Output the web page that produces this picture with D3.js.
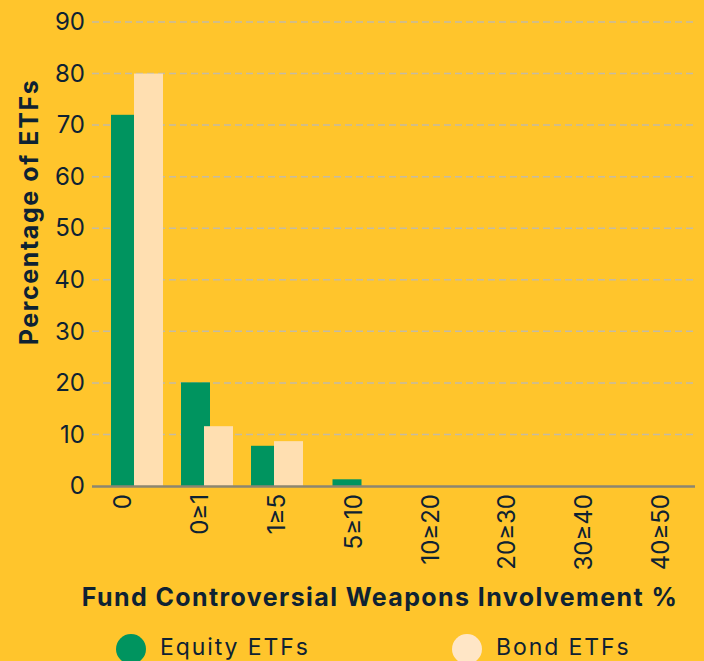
<!DOCTYPE html>
<html>
<head>
<meta charset="utf-8">
<script src="https://cdn.jsdelivr.net/npm/d3@7"></script>
<style>
  html, body { margin:0; padding:0; background:#FFC52C; }
  svg { display:block; font-family: Inter, Roboto, sans-serif; }
</style>
</head>
<body>
<div id="chart"></div>
<script>
// data
var categories = ["0", "0\u22651", "1\u22655", "5\u226510", "10\u226520", "20\u226530", "30\u226540", "40\u226550"];
var equityVals = [72, 20.1, 7.8, 1.3, 0, 0, 0, 0];
var bondVals   = [80, 11.6, 8.7, 0, 0, 0, 0, 0];
var yTicks = [0, 10, 20, 30, 40, 50, 60, 70, 80, 90];
var seriesNames = ["Equity ETFs", "Bond ETFs"];

var width = 704, height = 661;
var green = "#00945F", cream = "#FFDFB1", ink = "#0E2233";
var barW = 29;

var svg = d3.select("#chart").append("svg")
  .attr("width", width).attr("height", height);

svg.append("rect").attr("width", width).attr("height", height).attr("fill", "#FFC52C");

// scales - bars on a band scale, tick labels on their own point scale
var y = d3.scaleLinear().domain([0, 90]).range([486, 22]);
var xBand = d3.scaleBand().domain(categories).range([102, 662]);
var xLab = d3.scalePoint().domain(categories).range([122, 660]);

// gridlines
svg.append("g").selectAll("line").data(yTicks.filter(function(d){ return d > 0; }))
  .enter().append("line")
  .attr("x1", 92).attr("x2", 695)
  .attr("y1", function(d){ return y(d); }).attr("y2", function(d){ return y(d); })
  .attr("stroke", "#C4BBA4").attr("stroke-width", 1.5)
  .attr("stroke-dasharray", "7,4");

// y axis labels
var yAxis = svg.append("g").attr("transform", "translate(92,0)")
  .call(d3.axisLeft(y).tickValues(yTicks).tickSize(0).tickPadding(7));
yAxis.select(".domain").remove();
yAxis.selectAll("text").attr("fill", ink).attr("font-size", 24).style("font-family", "Inter");

// bars
var groups = svg.append("g").selectAll("g").data(categories).enter().append("g");
groups.each(function(c, i){
  var g = d3.select(this);
  var cx = xBand(c) + xBand.bandwidth() / 2;
  var hasBond = bondVals[i] > 0;
  if (equityVals[i] > 0) {
    g.append("rect")
      .attr("x", hasBond ? cx - 26 : cx - barW / 2)
      .attr("y", y(equityVals[i]))
      .attr("width", barW)
      .attr("height", y(0) - y(equityVals[i]))
      .attr("fill", green);
  }
  if (hasBond) {
    g.append("rect")
      .attr("x", cx - 3)
      .attr("y", y(bondVals[i]))
      .attr("width", barW)
      .attr("height", y(0) - y(bondVals[i]))
      .attr("fill", cream);
  }
});

// x axis
var xAxis = svg.append("g").attr("transform", "translate(0,486)")
  .call(d3.axisBottom(xLab).tickSize(0).tickSizeOuter(0));
xAxis.select(".domain").remove();
svg.append("line").attr("x1", 92).attr("x2", 695).attr("y1", 486.5).attr("y2", 486.5)
  .attr("stroke", "#8C8670").attr("stroke-width", 2.5);
xAxis.selectAll("text")
  .attr("fill", ink).attr("font-size", 24).style("font-family", "Inter")
  .attr("text-anchor", "end")
  .attr("transform", "rotate(-90)")
  .attr("x", -8).attr("y", 0).attr("dy", "0.36em");

// axis titles
svg.append("text")
  .attr("transform", "translate(38,212) rotate(-90)")
  .attr("text-anchor", "middle")
  .attr("font-size", 25).attr("font-weight", "bold").attr("fill", ink)
  .attr("letter-spacing", 1.6)
  .text("Percentage of ETFs");

svg.append("text")
  .attr("x", 380).attr("y", 606)
  .attr("text-anchor", "middle")
  .attr("font-size", 25).attr("font-weight", "bold").attr("fill", ink)
  .attr("letter-spacing", 1.4)
  .text("Fund Controversial Weapons Involvement %");

// legend
var legend = svg.append("g").selectAll("g").data(seriesNames).enter().append("g")
  .attr("transform", function(d, i){ return "translate(" + (131 + i * 336) + ",649)"; });
legend.append("ellipse").attr("rx", 15).attr("ry", 15)
  .attr("fill", function(d, i){ return i === 0 ? green : "#FFE6C6"; });
legend.append("text").attr("x", 29).attr("y", 6)
  .attr("font-size", 23).attr("fill", ink)
  .attr("letter-spacing", 1.9)
  .text(function(d){ return d; });
</script>
</body>
</html>
